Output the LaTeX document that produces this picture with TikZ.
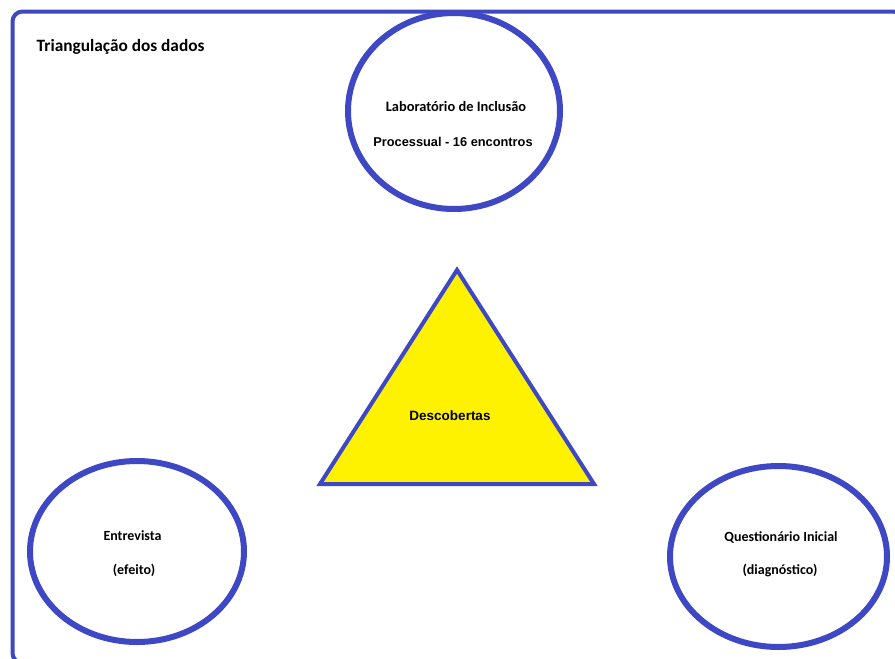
\documentclass[tikz,border=0pt]{standalone}
\usepackage{fontspec}
\setmainfont{Carlito}
\newfontfamily\arialfont{Liberation Sans}
\usetikzlibrary{shapes.geometric}
\definecolor{frameblue}{RGB}{63,72,190}
\definecolor{ellblue}{RGB}{63,72,196}
\definecolor{triyellow}{RGB}{255,242,0}
\tikzset{
  oval/.style={draw=ellblue, line width=6pt, ellipse, inner sep=0pt},
  lbl/.style={inner sep=0pt, text=black, font=\bfseries\fontsize{14}{16}\selectfont},
  albl/.style={inner sep=0pt, text=black},
}
\begin{document}
\begin{tikzpicture}[x=1pt,y=-1pt]
\useasboundingbox (0,0) rectangle (895,659);
\fill[white] (0,0) rectangle (895,659);
\begin{scope}
\clip (0,0) rectangle (895,659);
\draw[frameblue, line width=4pt, rounded corners=10pt] (12.5,11.5) rectangle (903,663);
\end{scope}
\node[lbl, anchor=base west, font=\bfseries\fontsize{17.3}{20}\selectfont] (title) at (36.5,51) {Triangulação dos dados};
% ellipses
\node[oval, minimum width=212pt, minimum height=196pt] (lab) at (454,111) {};
\node[oval, minimum width=214pt, minimum height=181pt] (entr) at (137,551.5) {};
\node[oval, minimum width=217pt, minimum height=181pt] (quest) at (778.5,556.5) {};
% triangle
\coordinate (tA) at (457,270);
\coordinate (tB) at (320,484);
\coordinate (tC) at (594,484);
\draw[fill=triyellow, draw=ellblue, line width=4pt] (tA) -- (tB) -- (tC) -- cycle;
% texts
\node[lbl, font=\bfseries\fontsize{14.4}{16}\selectfont] (labt1) at (456,106) {Laboratório de Inclusão};
\node[albl, font=\arialfont\bfseries\fontsize{12.8}{15}\selectfont] (labt2) at (453,142) {Processual - 16 encontros};
\node[albl, font=\arialfont\bfseries\fontsize{13.5}{16}\selectfont] (desc) at (450,416) {Descobertas};
\node[lbl] (entt1) at (132.5,536) {Entrevista};
\node[lbl] (entt2) at (134,570) {(efeito)};
\node[lbl] (qt1) at (781,537) {Questionário Inicial};
\node[lbl] (qt2) at (780,570) {(diagnóstico)};
\end{tikzpicture}
\end{document}
